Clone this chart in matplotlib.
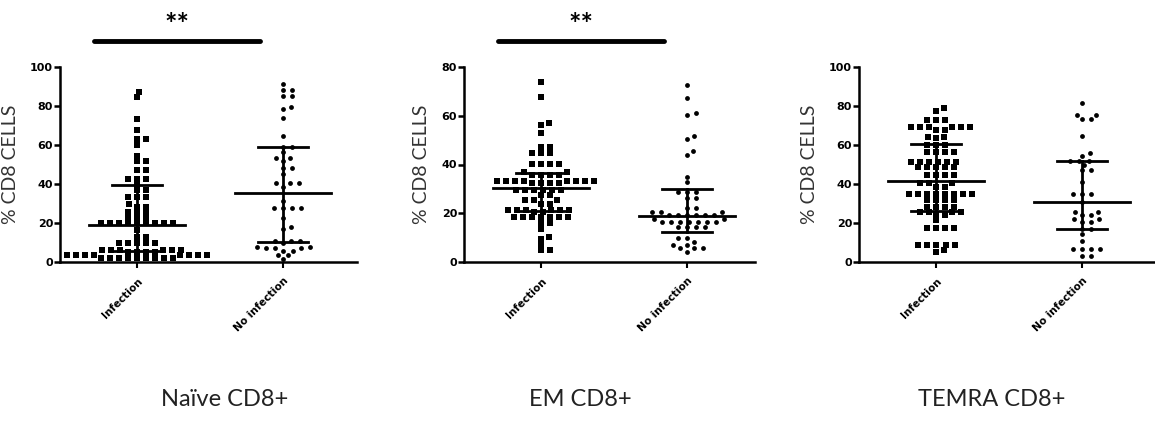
import numpy as np
import matplotlib.pyplot as plt
from matplotlib import transforms

plt.rcParams['font.family'] = ['Lato', 'DejaVu Sans']

# Podaci ocitani sa slike (% CD8 stanica)
naive_inf = [87.3, 84.8, 73.3, 67.7, 62.9, 62.9, 60, 54.4, 51.6, 51.6, 47.2, 47.2,
             42.7, 42.7, 42.7, 40, 36.9, 36.9, 33.5, 33.5, 33.5, 29.7, 28.4, 28.4,
             25.8, 25.8, 25.8, 23.2, 23.2, 23.2, 19.8, 19.8, 19.8, 19.8, 19.8, 19.8,
             19.8, 19.8, 19.8, 16.4, 13, 13, 9.6, 9.6, 9.6, 9.6, 9.6, 6.2, 6.2, 6.2,
             6.2, 6.2, 6.2, 5.3, 5.3, 5.3, 5.3, 3.6, 3.6, 3.6, 3.6, 3.6, 3.6, 3.6,
             3.6, 2, 2, 2, 2, 2, 2, 2, 2, 2]
naive_no = [91.1, 88.2, 88.2, 85.3, 85.3, 79.6, 78.5, 74, 64.8, 59.1, 59.1, 56.2,
            53.5, 53.5, 51.8, 48, 48, 45, 40.3, 40.3, 40.3, 38.6, 31.3, 27.9, 27.9,
            27.9, 27.9, 22.7, 18, 17, 10.9, 10.9, 10.9, 9.5, 7.8, 7.8, 7, 7, 7, 5.8,
            5.8, 3.6, 3.6, 1.4]
em_inf = [74, 67.6, 57.2, 56.2, 52.8, 47.3, 47.3, 44.7, 44.7, 44.7, 40.1, 40.1,
          40.1, 40.1, 36.8, 36.8, 35.7, 35.7, 35.7, 35.7, 33.2, 33.2, 33.2, 33.2,
          33.2, 33.2, 33.2, 33.2, 32.3, 32.3, 32.3, 32.3, 29.5, 29.5, 29.5, 29.5,
          29.5, 29.5, 27.5, 27.5, 25.4, 25.4, 25.4, 24, 24, 21.3, 21.3, 21.3, 21.3,
          21.3, 21.3, 20.6, 20.6, 18.6, 18.6, 18.6, 18.6, 18.6, 18.6, 18.6, 15.9,
          15.9, 13.5, 10.3, 9.3, 7, 4.9, 4.9]
em_no = [72.6, 67.4, 61, 60.5, 51.7, 50.5, 45.5, 43.9, 35, 32.7, 28.7, 28.7, 28.7,
         26.4, 26.4, 22.3, 22.3, 20.4, 20.4, 20.4, 19.3, 19.3, 19.3, 19.3, 19.3,
         19.3, 17.6, 17.6, 16.5, 16.5, 16.5, 16.5, 16.5, 16.5, 16.5, 14.5, 14.5,
         14.5, 14.5, 10, 10, 8.3, 7, 7, 5.6, 5.6, 5.6, 4.2]
temra_inf = [78.8, 77.4, 72.8, 72.8, 72.8, 69.4, 69.4, 69.4, 69.4, 69.4, 69.4,
             67.7, 67.7, 64.3, 64.3, 63.4, 60, 60, 60, 56.6, 56.6, 56.6, 56.6,
             51.4, 51.4, 51.4, 51.4, 51.4, 51.4, 48.9, 48.9, 48.9, 48.9, 48.9,
             44.6, 44.6, 44.6, 44.6, 40.4, 40.4, 40.4, 38.6, 38.6, 34.7, 34.7,
             34.7, 34.7, 34.7, 34.7, 34.7, 34.7, 31.8, 31.8, 31.8, 31.8, 28.4,
             28.4, 28.4, 28.4, 25.8, 25.8, 25.8, 25.8, 24.1, 24.1, 21.5, 17.3,
             17.3, 17.3, 17.3, 8.7, 8.7, 8.7, 8.7, 8.7, 6.2, 5.3]
temra_no = [81.4, 75.4, 75.4, 73.3, 73.3, 64.8, 55.7, 54.5, 51.8, 51.8, 51.8, 49.7,
            47.2, 47.2, 41.2, 34.7, 34.7, 34.7, 30.9, 25.8, 25.8, 24.1, 24.1, 22,
            22, 20.7, 20.7, 16.8, 16.8, 14.2, 10.9, 6.7, 6.7, 6.7, 6.7, 3.2, 3.2]

# medijan, Q1, Q3 ocitani s linija na slici
naive_stats = [(18.8, 5.6, 39.5), (35.2, 10.5, 59.1)]
em_stats = [(30.2, 21.1, 36.6), (18.9, 12.2, 29.8)]
temra_stats = [(41.7, 26.2, 60.5), (30.8, 16.8, 51.8)]

kategorije = ["Infection", "No infection"]
naslovi = ["Naïve CD8+", "EM CD8+", "TEMRA CD8+"]
ymaxs = [100, 80, 100]
yticks_list = [[0, 20, 40, 60, 80, 100], [0, 20, 40, 60, 80], [0, 20, 40, 60, 80, 100]]
znacajno = [True, True, False]

paneli = [(naive_inf, naive_no, naive_stats),
          (em_inf, em_no, em_stats),
          (temra_inf, temra_no, temra_stats)]

pozicije = [[60, 297], [464, 291], [859, 296]]  # lijevo i sirina u pikselima


def swarm(vals, px_y, px_x, ax_=8.5, ay_=5.0):
    # raspored tocaka: najbliza sredini pozicija bez sudara (elipticna udaljenost)
    order = np.argsort(vals)
    ys = np.array(vals)[order] * px_y
    placed = []
    offs = np.zeros(len(vals))
    kandidati = [0.0]
    for s in np.arange(1.0, 120, 1.0):
        kandidati += [s, -s]
    for k, y in zip(order, ys):
        for cx in kandidati:
            ok = all(((cx - px) / ax_) ** 2 + ((y - py) / ay_) ** 2 >= 1 for px, py in placed)
            if ok:
                break
        placed.append((cx, y))
        offs[k] = cx / px_x
    return offs


fig = plt.figure(figsize=(11.55, 4.22), dpi=100)
W, H = 1155, 422

for i, (inf, no, stats) in enumerate(paneli):
    left, width = pozicije[i]
    ax = fig.add_axes([left / W, (H - 262) / H, width / W, 195 / H])
    ax.set_xlim(-0.53, (width - 77) / 146)
    ax.set_ylim(0, ymaxs[i])
    px_y = 195 / ymaxs[i]
    px_x = 146

    for j, (vals, mk, s) in enumerate([(inf, "s", 14), (no, "o", 12)]):
        off = swarm(vals, px_y, px_x)
        ax.scatter(j + off, vals, marker=mk, s=s, color="black", linewidths=0,
                   clip_on=False, zorder=3)
        med, q1, q3 = stats[j]
        ax.plot([j - 0.33, j + 0.33], [med, med], color="black", lw=2, zorder=4)
        ax.plot([j, j], [q1, q3], color="black", lw=2, zorder=4)
        ax.plot([j - 0.17, j + 0.17], [q1, q1], color="black", lw=2, zorder=4)
        ax.plot([j - 0.17, j + 0.17], [q3, q3], color="black", lw=2, zorder=4)

    for sp in ["top", "right"]:
        ax.spines[sp].set_visible(False)
    for sp in ["left", "bottom"]:
        ax.spines[sp].set_linewidth(1.8)
    ax.set_yticks(yticks_list[i])
    ax.set_yticklabels([str(t) for t in yticks_list[i]], fontsize=8, fontweight="bold",
                       family="DejaVu Sans")
    ax.set_xticks([0, 1])
    ax.set_xticklabels(kategorije, rotation=45, ha="right", rotation_mode="anchor",
                       fontsize=7.5, fontweight="bold", family="DejaVu Sans")
    ax.tick_params(axis="y", width=1.8, length=4, pad=1)
    ax.tick_params(axis="x", width=1.5, length=4, pad=6)
    ax.set_ylabel("% CD8 CELLS", fontsize=14, color="#333333", labelpad=8)

    if znacajno[i]:
        tr = transforms.blended_transform_factory(ax.transData, ax.transAxes)
        ax.plot([-0.3, 0.84], [1.135, 1.135], color="black", lw=3.5,
                solid_capstyle="round", transform=tr, clip_on=False)
        ax.text(0.27, 1.215, "**", transform=tr, ha="center", va="center",
                fontsize=21, fontweight="bold")

centri = [225, 580, 992]
for i in range(3):
    fig.text(centri[i] / W, (H - 400) / H, naslovi[i], ha="center", va="center",
             fontsize=17, color="#222222")

fig.savefig("out.png", dpi=100)
